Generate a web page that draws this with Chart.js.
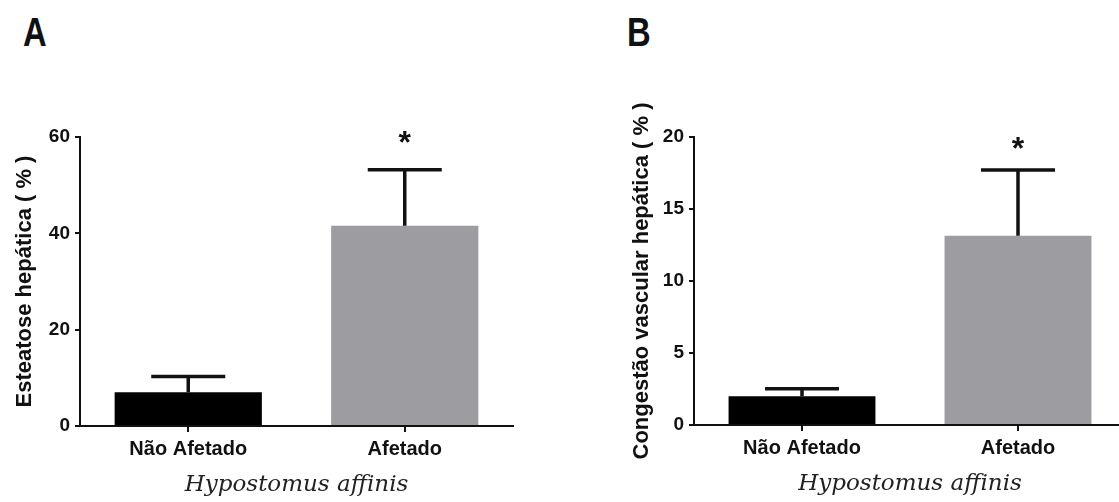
<!DOCTYPE html>
<html>
<head>
<meta charset="utf-8">
<script src="https://cdn.jsdelivr.net/npm/chart.js@4"></script>
<style>
  html, body { margin: 0; padding: 0; background: #fff; overflow: hidden; }
  body { width: 1119px; height: 502px; position: relative; }
  canvas { position: absolute; top: 0; }
  #chartA { left: 0; }
  #chartB { left: 600px; }
  .panel-letter {
    position: absolute; top: 12px;
    font: bold 40px "Liberation Sans", Arial, sans-serif; line-height: 1;
    color: #111; transform: scaleX(0.82); transform-origin: left top;
  }
</style>
</head>
<body>
<div class="panel-letter" style="left:23px">A</div>
<div class="panel-letter" style="left:627px">B</div>
<canvas id="chartA" width="560" height="502"></canvas>
<canvas id="chartB" width="530" height="502"></canvas>
<script>
// grupos e valores (média + erro padrão)
const groups = ['Não Afetado', 'Afetado'];
const speciesName = 'Hypostomus affinis';

const esteatoseMean = [7.0, 41.6];
const esteatoseSem = [3.3, 11.6];
const esteatoseStar = [null, 59.6];   // posição do asterisco (unidades do eixo)
const esteatoseMax = 60;
const esteatoseStep = 20;

const congestaoMean = [2.0, 13.15];
const congestaoSem = [0.52, 4.55];
const congestaoStar = [null, 19.4];
const congestaoMax = 20;
const congestaoStep = 5;

const barColors = ['#000000', '#9d9ca1'];
const ink = '#111';

Chart.defaults.font.family = '"Liberation Sans", Arial, sans-serif';
Chart.defaults.color = ink;

// barras de erro (só para cima) e asterisco de significância
const errorBars = {
    id: 'errorBars',
    afterDatasetsDraw(chart, args, opts) {
        const ctx = chart.ctx;
        const y = chart.scales.y;
        const meta = chart.getDatasetMeta(0);
        ctx.save();
        ctx.strokeStyle = ink;
        ctx.fillStyle = ink;
        ctx.lineWidth = 3.5;
        meta.data.forEach((bar, i) => {
            const yMean = y.getPixelForValue(opts.mean[i]);
            const yTop = y.getPixelForValue(opts.mean[i] + opts.sem[i]);
            ctx.beginPath();
            ctx.moveTo(bar.x, yMean);
            ctx.lineTo(bar.x, yTop);
            ctx.moveTo(bar.x - opts.cap, yTop);
            ctx.lineTo(bar.x + opts.cap, yTop);
            ctx.stroke();
            if (opts.stars[i] != null) {
                ctx.font = 'bold 32px "Liberation Sans", Arial, sans-serif';
                ctx.textAlign = 'center';
                ctx.textBaseline = 'middle';
                ctx.fillText('*', bar.x, y.getPixelForValue(opts.stars[i]) + 5);
            }
        });
        ctx.restore();
    }
};

function makeChart(canvasId, cfg) {
    return new Chart(document.getElementById(canvasId), {
        type: 'bar',
        data: {
            labels: groups,
            datasets: [{
                data: cfg.mean,
                backgroundColor: barColors,
                borderWidth: 0,
                barPercentage: 0.68,
                categoryPercentage: 1.0,
            }],
        },
        options: {
            responsive: false,
            animation: false,
            devicePixelRatio: 1,
            layout: { padding: { top: cfg.top, right: cfg.right, left: 0, bottom: 0 } },
            plugins: {
                legend: { display: false },
                tooltip: { enabled: false },
                errorBars: { mean: cfg.mean, sem: cfg.sem, stars: cfg.stars, cap: 37 },
            },
            scales: {
                x: {
                    afterFit: (scale) => { scale.height = cfg.xHeight; },
                    grid: { drawOnChartArea: false, offset: false, color: ink, lineWidth: 2, tickLength: 6 },
                    border: { color: ink, width: 2 },
                    ticks: { font: { size: 20, weight: 'bold' }, padding: 5, color: ink },
                    title: {
                        display: true,
                        text: speciesName,
                        font: { family: '"DejaVu Serif", serif', style: 'italic', size: 23 },
                        padding: { top: 0, bottom: cfg.speciesPad },
                        color: '#222',
                    },
                },
                y: {
                    min: 0,
                    max: cfg.max,
                    afterFit: (scale) => { scale.width = cfg.yWidth; },
                    grid: { drawOnChartArea: false, color: ink, lineWidth: 2, tickLength: 5 },
                    border: { color: ink, width: 2 },
                    ticks: { stepSize: cfg.step, font: { size: 19, weight: 'bold' }, padding: 5, color: ink },
                    title: {
                        display: true,
                        text: cfg.yTitle,
                        font: { size: 22, weight: 'bold' },
                        padding: { top: cfg.titlePad, bottom: 0 },
                        color: ink,
                    },
                },
            },
        },
        plugins: [errorBars],
    });
}

makeChart('chartA', {
    mean: esteatoseMean, sem: esteatoseSem, stars: esteatoseStar,
    max: esteatoseMax, step: esteatoseStep,
    yTitle: 'Esteatose hepática ( % )',
    top: 137, right: 47, xHeight: 76, yWidth: 80, titlePad: 12, speciesPad: 3,
});

makeChart('chartB', {
    mean: congestaoMean, sem: congestaoSem, stars: congestaoStar,
    max: congestaoMax, step: congestaoStep,
    yTitle: 'Congestão vascular hepática ( % )',
    top: 137, right: 4, xHeight: 77, yWidth: 94, titlePad: 29, speciesPad: 4,
});
</script>
</body>
</html>
